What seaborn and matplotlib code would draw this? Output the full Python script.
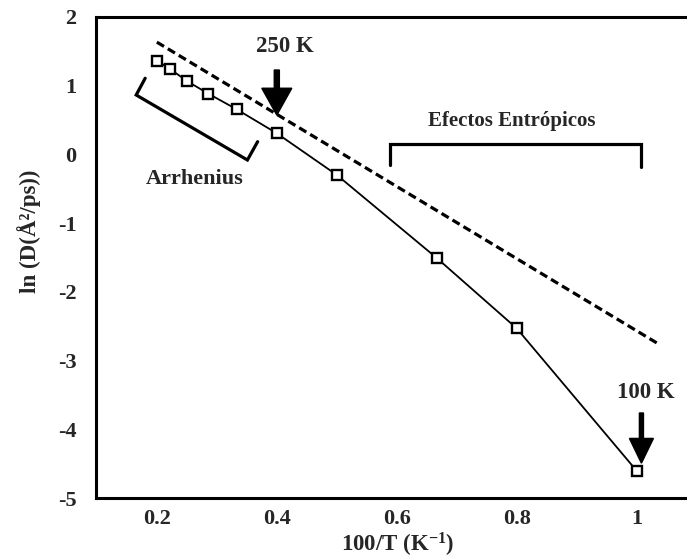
import matplotlib
matplotlib.use("Agg")
import matplotlib.pyplot as plt
import seaborn as sns
import pandas as pd

# ---- data ----
inv_T = [0.200, 0.222, 0.250, 0.286, 0.333, 0.400, 0.500, 0.667, 0.800, 1.000]
ln_D = [1.36, 1.24, 1.065, 0.88, 0.654, 0.305, -0.30, -1.51, -2.53, -4.60]

fit_x = [0.200, 1.039]
fit_y = [1.63, -2.77]

x_ticks = [0.2, 0.4, 0.6, 0.8, 1.0]
x_ticklabels = ["0.2", "0.4", "0.6", "0.8", "1"]
y_ticks = [-5, -4, -3, -2, -1, 0, 1, 2]
y_ticklabels = ["-5", "-4", "-3", "-2", "-1", "0", "1", "2"]

arr_x = [0.1805, 0.1655, 0.351, 0.368]
arr_y = [1.105, 0.862, -0.083, 0.183]
ent_x = [0.588, 0.588, 1.008, 1.008]
ent_y = [-0.155, 0.15, 0.15, -0.18]

sns.set_style("white")
plt.rcParams["font.family"] = ["Liberation Serif", "DejaVu Serif"]
plt.rcParams["font.weight"] = "bold"
plt.rcParams["mathtext.fontset"] = "custom"
plt.rcParams["mathtext.rm"] = "Liberation Serif:bold"
plt.rcParams["mathtext.bf"] = "Liberation Serif:bold"
plt.rcParams["mathtext.default"] = "bf"

fig = plt.figure(figsize=(6.87, 5.60), dpi=100)
ax = fig.add_axes([0.1393, 0.1102, 0.8607, 0.86])

df = pd.DataFrame({"x": inv_T, "y": ln_D})
sns.lineplot(data=df, x="x", y="y", ax=ax, color="black", lw=1.3,
             marker="s", markersize=7.6, markerfacecolor="white",
             markeredgecolor="black", markeredgewidth=1.7, sort=False)

dfit = pd.DataFrame({"x": fit_x, "y": fit_y})
sns.lineplot(data=dfit, x="x", y="y", ax=ax, color="black", lw=2.3,
             linestyle=(0, (2.6, 1.4)), sort=False)

# brackets
ax.plot(arr_x, arr_y, color="black", lw=2.3, solid_joinstyle="miter")
ax.plot(ent_x, ent_y, color="black", lw=2.3, solid_joinstyle="miter")

# arrows
ax.arrow(0.4, 1.225, 0, 0.57 - 1.225, width=0.0085, head_width=0.05,
         head_length=0.39, length_includes_head=True, color="black")
ax.arrow(1.008, -3.76, 0, -4.49 + 3.76, width=0.0068, head_width=0.04,
         head_length=0.36, length_includes_head=True, color="black")

ax.text(0.414, 1.56, "250 K", ha="center", va="center", fontsize=16.5, fontweight="bold")
ax.text(1.016, -3.46, "100 K", ha="center", va="center", fontsize=16.5, fontweight="bold")
ax.text(0.263, -0.36, "Arrhenius", ha="center", va="center", fontsize=16, fontweight="bold")
ax.text(0.792, 0.49, "Efectos Entrópicos", ha="center", va="center", fontsize=15, fontweight="bold")

ax.set_xlim(0.098, 1.084)
ax.set_ylim(-5, 2)
ax.set_xticks(x_ticks)
ax.set_xticklabels(x_ticklabels)
ax.set_yticks(y_ticks)
ax.set_yticklabels(y_ticklabels)
ax.tick_params(direction="in", length=6, width=1.5, labelsize=16, color="black")
ax.tick_params(axis="x", pad=8)
ax.tick_params(axis="y", pad=14)

ax.set_xlabel("100/T (K$^{-1}$)", fontsize=16.5, fontweight="bold")
ax.set_ylabel("ln (D(Å²/ps))", fontsize=16.5, fontweight="bold")
ax.xaxis.set_label_coords(0.51, -0.068)
ax.yaxis.set_label_coords(-0.093, 0.555)

for s in ["left", "bottom", "top"]:
    ax.spines[s].set_linewidth(2.2)
    ax.spines[s].set_color("black")
ax.spines["right"].set_visible(False)

fig.savefig("out.png", dpi=100, facecolor="white")
